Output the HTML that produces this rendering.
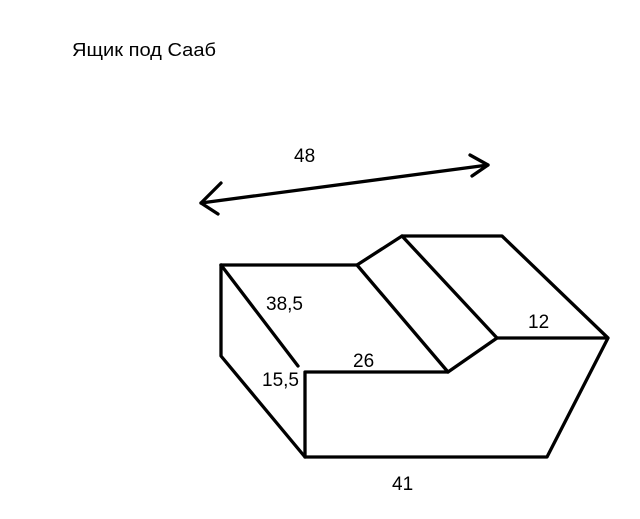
<!DOCTYPE html>
<html><head><meta charset="utf-8"><style>
html,body{margin:0;padding:0;background:#fff;width:640px;height:519px;overflow:hidden}
text{font-family:"Liberation Sans",Arial,sans-serif;fill:#000}
</style></head><body>
<svg width="640" height="519" viewBox="0 0 640 519" xmlns="http://www.w3.org/2000/svg">
<rect width="640" height="519" fill="#fff"/>
<text x="72" y="56" font-size="18" textLength="144" lengthAdjust="spacingAndGlyphs">Ящик под Сааб</text>
<text x="294" y="162" font-size="19">48</text>
<g stroke="#000" stroke-width="3.3" fill="none" stroke-linecap="round" stroke-linejoin="round">
<line x1="201" y1="203" x2="488" y2="165"/>
<polyline points="221,183 201,203 218,214"/>
<polyline points="470,155 488,165 472,176"/>
<polyline points="221,265 357,265 402,236 502,236 608,338 547,457 305,457 305,372 448,372 497,338 608,338"/>
<line x1="357" y1="265" x2="448" y2="372"/>
<line x1="402" y1="236" x2="497" y2="338"/>
<polyline points="221,265 221,356 305,457"/>
<line x1="221" y1="265" x2="298" y2="366"/>
</g>
<text x="266" y="310" font-size="19">38,5</text>
<text x="353" y="367" font-size="19">26</text>
<text x="262" y="386" font-size="19">15,5</text>
<text x="528" y="328" font-size="19">12</text>
<text x="392" y="490" font-size="19">41</text>
</svg>
</body></html>
